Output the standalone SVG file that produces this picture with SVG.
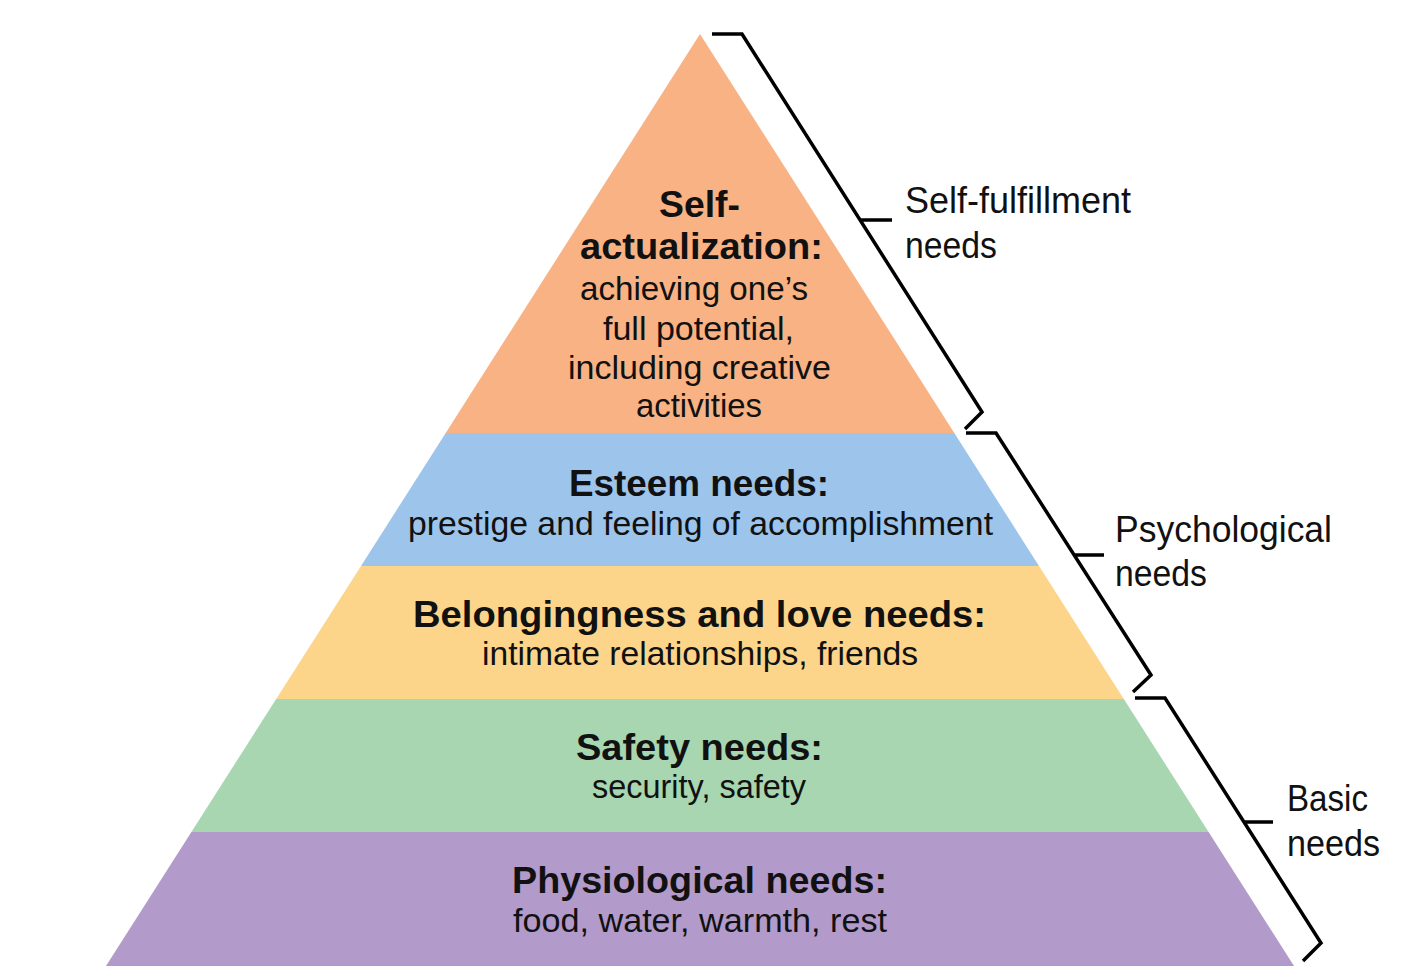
<svg xmlns="http://www.w3.org/2000/svg" width="1408" height="976" viewBox="0 0 1408 976">
<style>
.b{font-family:"Liberation Sans",Arial,sans-serif;font-weight:bold;font-size:36px;fill:#111}
.r{font-family:"Liberation Sans",Arial,sans-serif;font-size:34px;fill:#111}
.l{font-family:"Liberation Sans",Arial,sans-serif;font-size:37px;fill:#111}
.br{fill:none;stroke:#000;stroke-width:3.5;stroke-linejoin:miter}
</style>
<rect width="1408" height="976" fill="#fff"/>
<g id="self-actualization">
<polygon points="700,34 954.3,433 445.7,433" fill="#F8B283"/>
<text class="b" x="659" y="217" textLength="81" lengthAdjust="spacingAndGlyphs">Self-</text>
<text class="b" x="580" y="259" textLength="243" lengthAdjust="spacingAndGlyphs">actualization:</text>
<text class="r" x="580" y="300" textLength="228" lengthAdjust="spacingAndGlyphs">achieving one’s</text>
<text class="r" x="603" y="340" textLength="191" lengthAdjust="spacingAndGlyphs">full potential,</text>
<text class="r" x="568" y="379" textLength="263" lengthAdjust="spacingAndGlyphs">including creative</text>
<text class="r" x="636" y="417" textLength="126" lengthAdjust="spacingAndGlyphs">activities</text>
</g>
<g id="esteem">
<polygon points="445.7,433 954.3,433 1039,566 361,566" fill="#9DC4EB"/>
<text class="b" x="569" y="496" textLength="260" lengthAdjust="spacingAndGlyphs">Esteem needs:</text>
<text class="r" x="408" y="535" textLength="585" lengthAdjust="spacingAndGlyphs">prestige and feeling of accomplishment</text>
</g>
<g id="belongingness">
<polygon points="361,566 1039,566 1123.8,699 276.2,699" fill="#FCD58A"/>
<text class="b" x="413" y="627" textLength="573" lengthAdjust="spacingAndGlyphs">Belongingness and love needs:</text>
<text class="r" x="482" y="665" textLength="436" lengthAdjust="spacingAndGlyphs">intimate relationships, friends</text>
</g>
<g id="safety">
<polygon points="276.2,699 1123.8,699 1208.6,832 191.4,832" fill="#A7D6B0"/>
<text class="b" x="576" y="760" textLength="247" lengthAdjust="spacingAndGlyphs">Safety needs:</text>
<text class="r" x="592" y="798" textLength="214" lengthAdjust="spacingAndGlyphs">security, safety</text>
</g>
<g id="physiological">
<polygon points="191.4,832 1208.6,832 1294,966 106,966" fill="#B29ACB"/>
<text class="b" x="512" y="893" textLength="375" lengthAdjust="spacingAndGlyphs">Physiological needs:</text>
<text class="r" x="513" y="932" textLength="374" lengthAdjust="spacingAndGlyphs">food, water, warmth, rest</text>
</g>
<g id="brackets">
<path class="br" d="M712,34 H742 L982,412 L965,429 M860,220 H892"/>
<path class="br" d="M966,433 H996 L1151,675 L1133,692 M1074,555 H1104"/>
<path class="br" d="M1135,698 H1165 L1321,943 L1303,961 M1244,822 H1273"/>
</g>
<g id="label-self-fulfillment">
<text class="l" x="905" y="213" textLength="226" lengthAdjust="spacingAndGlyphs">Self-fulfillment</text>
<text class="l" x="905" y="258" textLength="92" lengthAdjust="spacingAndGlyphs">needs</text>
</g>
<g id="label-psychological">
<text class="l" x="1115" y="542" textLength="217" lengthAdjust="spacingAndGlyphs">Psychological</text>
<text class="l" x="1115" y="586" textLength="92" lengthAdjust="spacingAndGlyphs">needs</text>
</g>
<g id="label-basic">
<text class="l" x="1287" y="811" textLength="81" lengthAdjust="spacingAndGlyphs">Basic</text>
<text class="l" x="1287" y="856" textLength="93" lengthAdjust="spacingAndGlyphs">needs</text>
</g>
</svg>
